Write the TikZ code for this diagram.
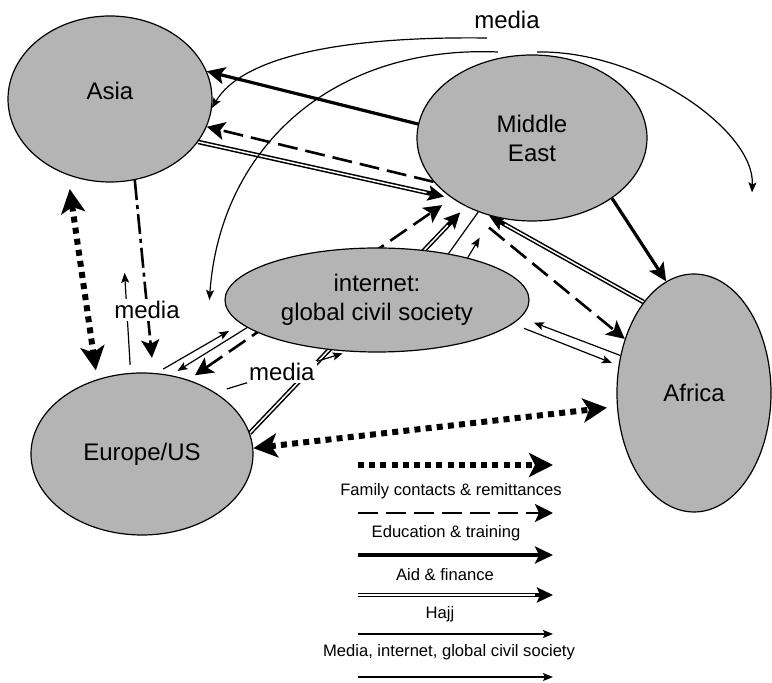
\documentclass[tikz,border=0pt]{standalone}
\usepackage{fontspec}
\setmainfont{Liberation Sans}
\usetikzlibrary{shapes.geometric,arrows.meta,backgrounds}

\definecolor{regiongray}{RGB}{180,180,180}

\tikzset{
	famtip/.tip={Stealth[length=12pt,width=12pt,inset=3pt]},
	edutip/.tip={Stealth[length=9pt,width=9pt,inset=2pt]},
	aidtip/.tip={Stealth[length=9pt,width=8.5pt,inset=2pt]},
	hajjtip/.tip={Stealth[length=8pt,width=7.5pt,inset=1.5pt]},
	medtip/.tip={Stealth[length=5pt,width=4pt,inset=1pt]},
	region/.style={ellipse, draw, fill=regiongray, line width=0.6pt, inner sep=0pt, align=center, font=\fontsize{12}{14.5}\selectfont},
	famline/.style={line width=3pt, dash pattern=on 3pt off 2.6pt, -famtip},
	famboth/.style={famline, famtip-famtip},
	eduline/.style={line width=1.3pt, dash pattern=on 10pt off 4pt, -edutip},
	eduboth/.style={eduline, edutip-edutip},
	aidline/.style={line width=1.6pt, -aidtip},
	hajjline/.style={line width=2.3pt, -hajjtip, shorten >=#1, postaction={draw=white, line width=0.75pt, arrows=-, shorten >={#1+9pt}}},
	hajjline/.default=0pt,
	medline/.style={line width=0.6pt, -medtip},
	medlabel/.style={fill=white, inner sep=1pt, font=\fontsize{12}{14}\selectfont},
	legend/.style={font=\fontsize{8.3}{10}\selectfont, inner sep=1pt}
}

\begin{document}
\begin{tikzpicture}[x=0.5pt, y=-0.5pt]
\useasboundingbox (0,0) rectangle (772,683);

% regions
\node[region, minimum width=102pt, minimum height=83pt] (asia) at (110,99) {\raisebox{8pt}{Asia}};
\node[region, minimum width=115pt, minimum height=83pt] (mideast) at (532,138) {Middle\\East};
\node[region, minimum width=152pt, minimum height=52pt] (inet) at (377,300) {internet:\\global civil society};
\node[region, minimum width=111pt, minimum height=81pt] (europe) at (142,454) {Europe/US};
\node[region, minimum width=77pt, minimum height=119pt] (africa) at (694,393) {Africa};

\node[medlabel] (mediaTop) at (507,20) {media};
\coordinate (topA) at (487,38);
\coordinate (topB) at (498,52);
\coordinate (topC) at (537,52);

\begin{pgfonlayer}{background}
% aid & finance
\draw[aidline] (mideast.173) -- (asia.16);
\draw[aidline] (mideast.-37) -- (africa.104);
% hajj
\draw[hajjline=4pt] (asia.-26) -- (mideast.217);
\draw[hajjline=4pt] (europe.11) -- (mideast.226);
\draw[hajjline] (africa.119) -- (mideast.241);
% education & training
\draw[eduline] (mideast.204) -- (asia.-16);
\draw[eduboth, shorten <=4pt, shorten >=6pt] (europe.58) -- (mideast.217);
\draw[eduline] ([yshift=-6pt]mideast.241) -- (africa.142);
\draw[eduline, dash pattern=on 10pt off 2.5pt on 2pt off 2.5pt, shorten >=7.5pt] (asia.287) -- (europe.82);
% family contacts
\draw[famboth, shorten <=7pt, shorten >=4.5pt] (asia.241) -- (europe.121);
\draw[famboth, shorten >=5pt] (europe.3) -- (africa.190);
% media, internet
\draw[medline, shorten <=4pt, shorten >=7pt] (europe.80) -- (inet.190);
\draw[medline, shorten >=4pt] (inet.192) -- (europe.70);
\draw[medline, shorten >=7pt] (africa.153) -- (inet.-7);
\draw[medline, shorten <=6pt, shorten >=3.5pt] (inet.-10) -- (africa.160);
\draw[line width=0.6pt] (inet.33) -- (mideast.234);
\draw[medline] (inet.25) -- ++(12,-20);
\draw[medline, shorten <=4pt] (europe.98) -- ++(-6,-100);
\draw[medline, shorten <=6pt, shorten >=3pt] (europe.40) -- node[medlabel] (mediaB) {media} (inet.241);
\node[medlabel] (mediaL) at (147,310) {media};
\draw[medline] (topA) .. controls (330,36) and (240,60) .. (asia.-5);
\draw[medline] (topB) .. controls (330,45) and (220,150) .. ([xshift=-7.5pt]inet.west);
\draw[medline] (topC) .. controls (640,50) and (755,130) .. ([shift={(29pt,40.5pt)}]africa.north);
\end{pgfonlayer}

% legend
\foreach \sty/\yy [count=\i] in {famline/465, eduline/513, aidline/555, hajjline/595, medline/634, medline/677}
	\draw[\sty] (358,\yy) coordinate (lg\i w) -- (553,\yy) coordinate (lg\i e);
\node[legend] (lgFam) at (451,491) {Family contacts \& remittances};
\node[legend] (lgEdu) at (446,533) {Education \& training};
\node[legend] (lgAid) at (445,575) {Aid \& finance};
\node[legend] (lgHajj) at (440,614) {Hajj};
\node[legend] (lgMed) at (449,652) {Media, internet, global civil society};
\end{tikzpicture}
\end{document}
